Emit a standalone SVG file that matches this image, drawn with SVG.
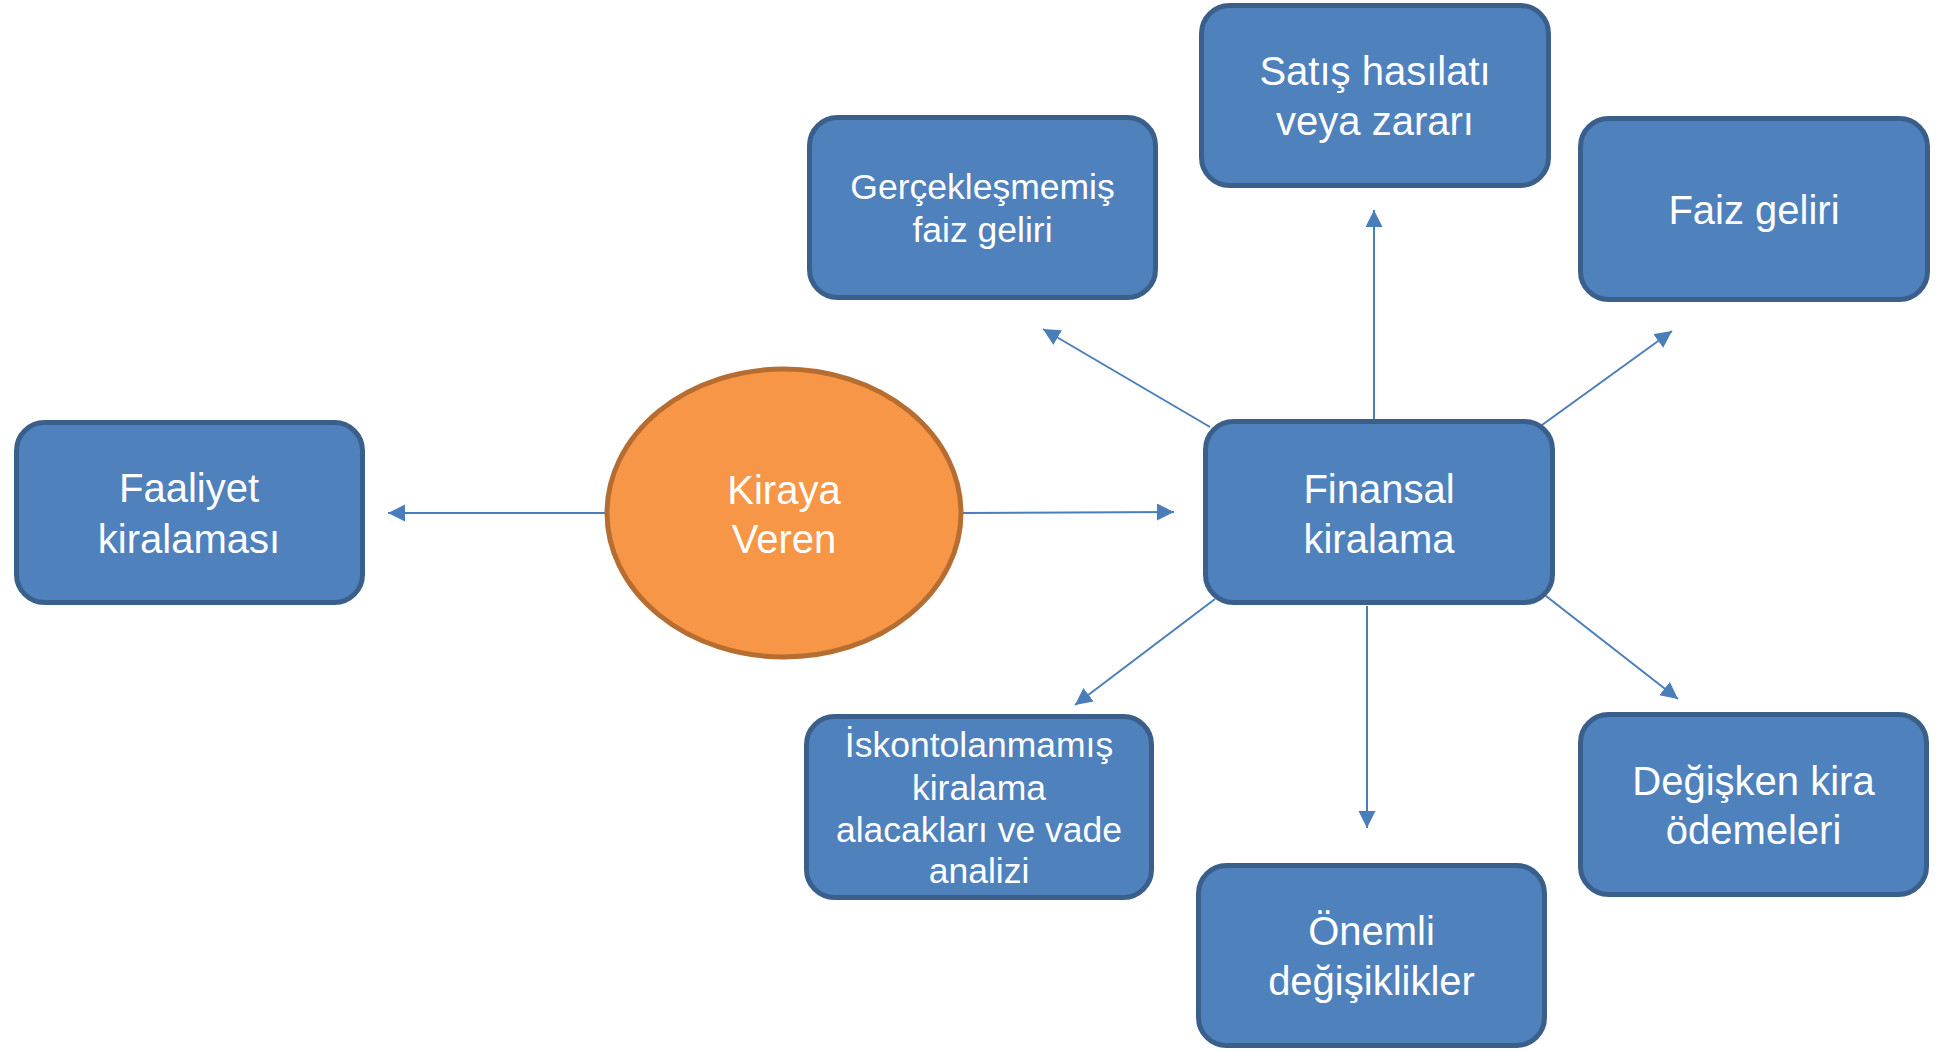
<svg xmlns="http://www.w3.org/2000/svg" width="1946" height="1051" viewBox="0 0 1946 1051">
<style>
.box{fill:#4F81BD;stroke:#3A5F8B;stroke-width:5}
.ell{fill:#F79646;stroke:#B66D31;stroke-width:5}
.t{font-family:"Liberation Sans",Arial,sans-serif;fill:#FFFFFF;text-anchor:middle}
.lg{font-size:40px}
.sm{font-size:35.5px}
.c{stroke:#4A7EBB;stroke-width:2;fill:none;marker-end:url(#ah)}
</style>
<defs>
<marker id="ah" markerUnits="userSpaceOnUse" markerWidth="18" markerHeight="18" refX="17" refY="8.5" orient="auto">
<path d="M0,0 L17,8.5 L0,17 z" fill="#4A7EBB"/>
</marker>
</defs>
<rect width="1946" height="1051" fill="#FFFFFF"/>
<g id="connectors">
<line class="c" x1="605" y1="513" x2="388" y2="513"/>
<line class="c" x1="963" y1="513" x2="1174" y2="512"/>
<line class="c" x1="1210" y1="427" x2="1043" y2="329"/>
<line class="c" x1="1374" y1="420" x2="1374" y2="210"/>
<line class="c" x1="1542" y1="425" x2="1672" y2="331"/>
<line class="c" x1="1215" y1="599" x2="1075" y2="705"/>
<line class="c" x1="1367" y1="606" x2="1367" y2="828"/>
<line class="c" x1="1546" y1="596" x2="1678" y2="699"/>
</g>
<g id="faaliyet">
<rect class="box" x="16.5" y="422.5" width="346" height="180" rx="28"/>
<text class="t lg" x="189" y="502">Faaliyet</text>
<text class="t lg" x="189" y="553">kiralaması</text>
</g>
<g id="kiraya-veren">
<ellipse class="ell" cx="784" cy="513" rx="177" ry="144"/>
<text class="t lg" x="784" y="504">Kiraya</text>
<text class="t lg" x="784" y="553">Veren</text>
</g>
<g id="gerceklesmemis">
<rect class="box" x="809.5" y="117.5" width="346" height="180" rx="28"/>
<text class="t sm" x="982.5" y="199">Gerçekleşmemiş</text>
<text class="t sm" x="982.5" y="242">faiz geliri</text>
</g>
<g id="satis">
<rect class="box" x="1201.5" y="5.5" width="347" height="180" rx="28"/>
<text class="t lg" x="1375" y="85">Satış hasılatı</text>
<text class="t lg" x="1375" y="135">veya zararı</text>
</g>
<g id="faiz">
<rect class="box" x="1580.5" y="118.5" width="347" height="181" rx="28"/>
<text class="t lg" x="1754" y="224">Faiz geliri</text>
</g>
<g id="finansal">
<rect class="box" x="1205.5" y="421.5" width="347" height="181" rx="28"/>
<text class="t lg" x="1379" y="503">Finansal</text>
<text class="t lg" x="1379" y="553">kiralama</text>
</g>
<g id="iskontolanmamis">
<rect class="box" x="806.5" y="716.5" width="345" height="181" rx="28"/>
<text class="t sm" x="979" y="757">İskontolanmamış</text>
<text class="t sm" x="979" y="800">kiralama</text>
<text class="t sm" x="979" y="842">alacakları ve vade</text>
<text class="t sm" x="979" y="883">analizi</text>
</g>
<g id="onemli">
<rect class="box" x="1198.5" y="865.5" width="346" height="180" rx="28"/>
<text class="t lg" x="1371.5" y="945">Önemli</text>
<text class="t lg" x="1371.5" y="995">değişiklikler</text>
</g>
<g id="degisken">
<rect class="box" x="1580.5" y="714.5" width="346" height="180" rx="28"/>
<text class="t lg" x="1753.5" y="795">Değişken kira</text>
<text class="t lg" x="1753.5" y="844">ödemeleri</text>
</g>
</svg>
